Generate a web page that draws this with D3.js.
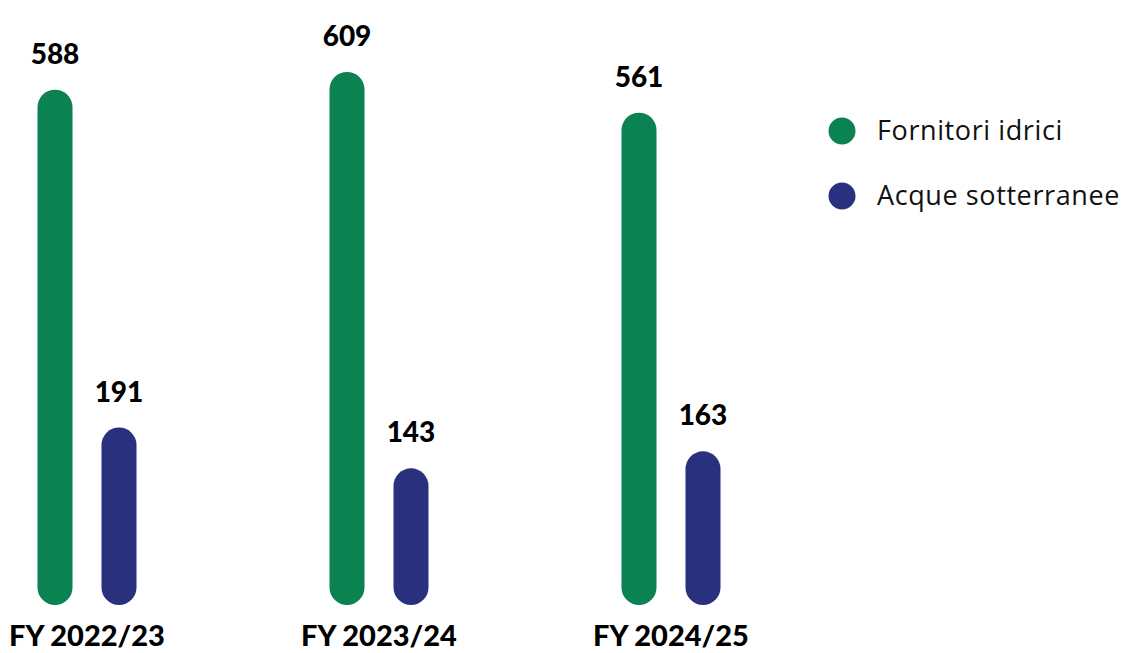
<!DOCTYPE html>
<html>
<head>
<meta charset="utf-8">
<script src="https://cdn.jsdelivr.net/npm/d3@7"></script>
<style>
  body { margin: 0; background: #fff; }
  .val { font-family: Lato, sans-serif; font-weight: 900; font-size: 28px; fill: #000; }
  .cat { font-family: Lato, sans-serif; font-weight: 900; font-size: 29px; fill: #000; }
  .leg { font-family: "Open Sans", sans-serif; font-size: 27px; letter-spacing: 0.6px; fill: #111; }
</style>
</head>
<body>
<div id="chart"></div>
<script>
//////////////////////// Data ////////////////////////////
var years = ["FY 2022/23", "FY 2023/24", "FY 2024/25"];
var seriesNames = ["Fornitori idrici", "Acque sotterranee"];
var fornitori = [588, 609, 561];
var sotterranee = [191, 143, 163];
var colors = ["#0a8251", "#29317f"];

//////////////////////// Set-Up ////////////////////////////
var width = 1124, height = 653,
    barW = 35, r = barW / 2,
    baseY = 605;

var rows = years.map(function(y, i) {
  return { year: y, values: [fornitori[i], sotterranee[i]] };
});

var x0 = d3.scaleBand().domain(years).range([-59, 817]);
var x1 = d3.scaleBand().domain(seriesNames).range([-49.5, 49.5]).paddingInner(0.453);
var y = d3.scaleLinear().domain([0, 650]).range([590, 37]);
var color = d3.scaleOrdinal().domain(seriesNames).range(colors);

var svg = d3.select("#chart").append("svg")
    .attr("width", width)
    .attr("height", height);

//////////////////////// Bars ////////////////////////////
var groups = svg.selectAll("g.group")
  .data(rows)
  .enter().append("g")
  .attr("class", "group")
  .attr("transform", function(d) { return "translate(" + (x0(d.year) + x0.bandwidth() / 2) + ",0)"; });

var bars = groups.selectAll("g.bar")
  .data(function(d) { return d.values.map(function(v, i) { return { name: seriesNames[i], value: v }; }); })
  .enter().append("g")
  .attr("class", "bar");

bars.append("rect")
  .attr("x", function(d) { return x1(d.name); })
  .attr("width", x1.bandwidth())
  .attr("y", function(d) { return y(d.value); })
  .attr("height", function(d) { return baseY - y(d.value); })
  .attr("rx", r).attr("ry", r)
  .style("fill", function(d) { return color(d.name); });

bars.append("text")
  .attr("class", "val")
  .attr("x", function(d) { return x1(d.name) + x1.bandwidth() / 2; })
  .attr("y", function(d) { return y(d.value) - 26; })
  .attr("text-anchor", "middle")
  .text(function(d) { return d.value; });

groups.append("text")
  .attr("class", "cat")
  .attr("x", 0)
  .attr("y", 646)
  .attr("text-anchor", "middle")
  .text(function(d) { return d.year; });

//////////////////////// Legend ////////////////////////////
var legend = svg.selectAll("g.legend")
  .data(seriesNames)
  .enter().append("g")
  .attr("class", "legend")
  .attr("transform", function(d, i) { return "translate(842," + (131 + i * 65) + ")"; });

legend.append("circle")
  .attr("r", 13.5)
  .style("fill", function(d) { return color(d); });

legend.append("text")
  .attr("class", "leg")
  .attr("x", 35)
  .attr("y", 9)
  .text(function(d) { return d; });
</script>
</body>
</html>
